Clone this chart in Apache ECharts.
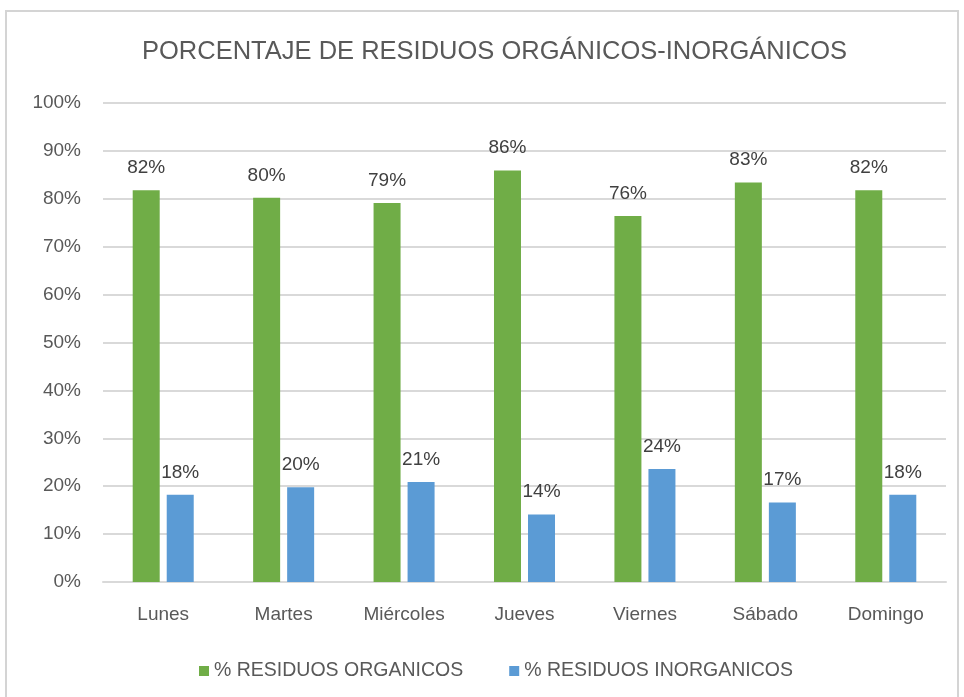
<!DOCTYPE html>
<html>
<head>
<meta charset="utf-8">
<script src="https://cdn.jsdelivr.net/npm/echarts@6/dist/echarts.min.js"></script>
<style>
  html, body { margin: 0; padding: 0; background: #fff; }
  #chart { width: 964px; height: 697px; }
</style>
</head>
<body>
<div id="chart"></div>
<script>
const dias = ['Lunes', 'Martes', 'Miércoles', 'Jueves', 'Viernes', 'Sábado', 'Domingo']
const organicos = [81.8, 80.2, 79.1, 85.9, 76.4, 83.4, 81.8]
const inorganicos = [18.2, 19.8, 20.9, 14.1, 23.6, 16.6, 18.2]
const nombreOrg = '% RESIDUOS ORGANICOS'
const nombreInorg = '% RESIDUOS INORGANICOS'

const fuente = '"Liberation Sans", Arial, sans-serif'
const gris = '#595959'

const chart = echarts.init(document.getElementById('chart'))

const etiqueta = {
  show: true,
  position: 'top',
  distance: 13,
  color: '#404040',
  fontFamily: fuente,
  fontSize: 19,
  formatter: p => Math.round(p.value) + '%',
}

chart.setOption({
  animation: false,
  textStyle: { fontFamily: fuente },
  graphic: [{
    type: 'rect',
    shape: { x: 6, y: 11, width: 952, height: 700 },
    style: { fill: 'none', stroke: '#d4d4d4', lineWidth: 2 },
  }],
  title: {
    text: 'PORCENTAJE DE RESIDUOS ORGÁNICOS-INORGÁNICOS',
    left: 137,
    top: 34,
    textStyle: { color: gris, fontFamily: fuente, fontSize: 25.5, fontWeight: 'normal' },
  },
  legend: {
    data: [nombreOrg, nombreInorg],
    top: 656,
    left: 194,
    itemGap: 46,
    itemWidth: 10,
    itemHeight: 10,
    icon: 'rect',
    textStyle: { color: gris, fontFamily: fuente, fontSize: 19.5 },
  },
  grid: { left: 103, right: 18, top: 103, bottom: 115 },
  xAxis: {
    type: 'category',
    data: dias,
    axisLine: { lineStyle: { color: '#d9d9d9', width: 2 } },
    axisTick: { show: false },
    axisLabel: { color: gris, fontFamily: fuente, fontSize: 19, margin: 23 },
  },
  yAxis: {
    type: 'value',
    min: 0,
    max: 100,
    interval: 10,
    axisLine: { show: false },
    axisTick: { show: false },
    splitLine: { lineStyle: { color: '#d9d9d9', width: 2 } },
    axisLabel: { color: gris, fontFamily: fuente, fontSize: 19, margin: 22, formatter: '{value}%' },
  },
  series: [
    {
      name: nombreOrg,
      type: 'bar',
      data: organicos,
      barWidth: 27,
      barGap: '26%',
      itemStyle: { color: '#70ad47' },
      label: etiqueta,
    },
    {
      name: nombreInorg,
      type: 'bar',
      data: inorganicos,
      barWidth: 27,
      itemStyle: { color: '#5b9bd5' },
      label: etiqueta,
    },
  ],
})
</script>
</body>
</html>
